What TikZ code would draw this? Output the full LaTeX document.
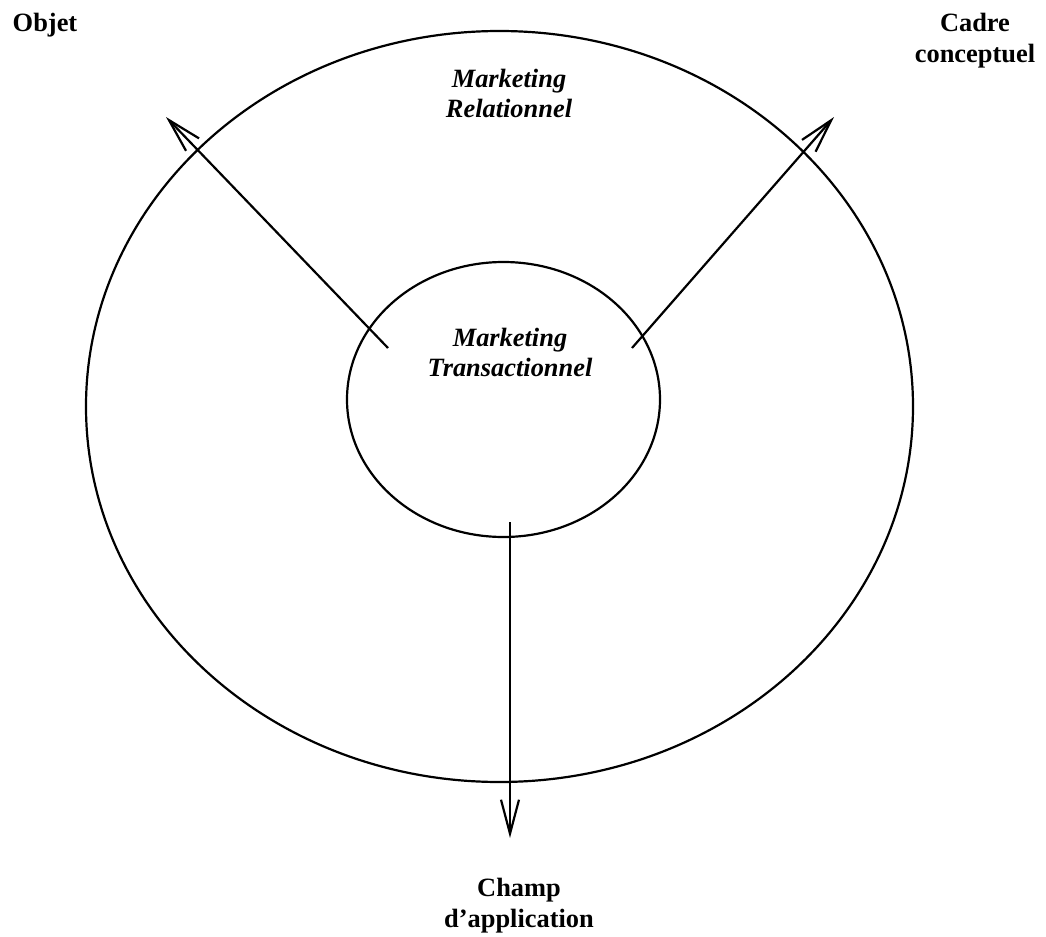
\documentclass[tikz,border=0pt]{standalone}
\usepackage{fontspec}
\setmainfont{Liberation Serif}
\usetikzlibrary{arrows.meta}
\usetikzlibrary{positioning}
\usetikzlibrary{shapes.geometric}

\tikzset{
  ring/.style={ellipse, draw, line width=1.1pt, inner sep=0pt},
  axe/.style={line width=1.1pt, -{Straight Barb[length=17pt,width=9pt,line width=1.1pt]}},
  lbl/.style={font=\fontsize{13.2}{15.5}\selectfont\bfseries, align=center, anchor=base, inner sep=0pt},
  champ/.style={font=\fontsize{13.2}{15}\selectfont\bfseries\itshape, align=center, anchor=base, inner sep=0pt}
}

\begin{document}
\begin{tikzpicture}[x=0.5pt, y=-0.5pt]

                    \useasboundingbox (0,0) rectangle (1046,937);

                    \node[ring, minimum width=413.5pt, minimum height=375.5pt] (outer) at (499.5,406.5) {};
                    \node[ring, minimum width=156.5pt, minimum height=137.5pt] (inner) at (503.5,399.5) {};

                    % anchor base = baseline of the last line
                    \node[champ] (m_r) at (509,117) {Marketing\\Relationnel};
                    \node[champ] (m_t) at (510,376) {Marketing\\Transactionnel};

                    \node[lbl] (obj)   at (45,32)   {Objet};
                    \node[lbl] (cadre) at (975,62)  {Cadre\\conceptuel};
                    \node[lbl] (app)   at (519,927) {Champ\\d’application};

                    \coordinate (s_0) at (388,348);
                    \coordinate (s_1) at (632,348);
                    \coordinate (s_2) at (510,522);
                    \coordinate (e_0) at (166,117);
                    \coordinate (e_1) at (834,117);
                    \coordinate (e_2) at (510,838);

                    \path[axe]
                    (s_0) edge (e_0)
                    (s_1) edge (e_1)
                    (s_2) edge (e_2);

\end{tikzpicture}
\end{document}
